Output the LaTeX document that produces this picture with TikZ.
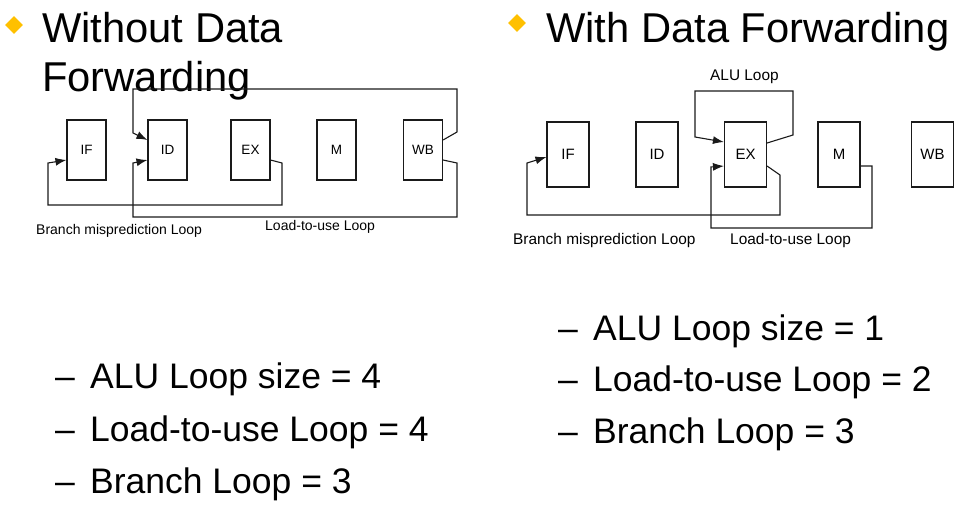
\documentclass[tikz,border=0pt]{standalone}
\usepackage{fontspec}
\setmainfont{Liberation Sans}
\usetikzlibrary{arrows.meta,shapes.geometric}
\definecolor{gold}{HTML}{FFC000}
\definecolor{ln}{HTML}{1A1A1A}
\begin{document}
\begin{tikzpicture}[x=1pt,y=-1pt,
  stagebox/.style={draw=ln,line width=1.1pt,fill=white,inner sep=0pt},
  lstage/.style={stagebox,minimum width=39pt,minimum height=60pt,font=\fontsize{13.5}{16}\selectfont},
  rstage/.style={stagebox,minimum width=42pt,minimum height=65pt,font=\fontsize{15}{18}\selectfont},
  loopline/.style={draw=ln,line width=1.1pt},
  looparrow/.style={loopline,-{Latex[length=11pt,width=8pt]}},
  bigtext/.style={anchor=base west,inner sep=0pt,font=\fontsize{41.7}{49}\selectfont},
  itemtext/.style={anchor=base west,inner sep=0pt,font=\fontsize{35.5}{42}\selectfont},
  lsmall/.style={inner sep=0pt,font=\fontsize{14}{16}\selectfont},
  rsmall/.style={inner sep=0pt,font=\fontsize{15.4}{18}\selectfont},
  bulletmark/.style={diamond,fill=gold,inner sep=0pt,minimum size=18pt}]
\useasboundingbox (0,0) rectangle (970,507);

% headings
\node[bulletmark] (b1) at (14,25) {};
\node[bigtext] (h1a) at (42,42) {Without Data};
\node[bigtext] (h1b) at (42,91) {Forwarding};
\node[bulletmark] (b2) at (517,23) {};
\node[bigtext] (h2) at (546,42) {With Data Forwarding};

% left pipeline
\node[lstage] (LIF) at (86.5,150) {IF};
\node[lstage] (LID) at (167.5,150) {ID};
\node[lstage] (LEX) at (250.5,150) {EX};
\node[lstage] (LM)  at (336.5,150) {M};
\node[lstage] (LWB) at (423,150) {WB};

\draw[looparrow] ([yshift=10pt]LWB.east) -- (457,132) -- (457,89) -- (133,89) -- (133,133) -- ([yshift=10pt]LID.west);
\draw[looparrow] ([yshift=-10pt]LWB.east) -- (457,163) -- (457,217) -- (133,217) -- (133,163) -- ([yshift=-10pt]LID.west);
\draw[looparrow] ([yshift=-10pt]LEX.east) -- (282,163) -- (282,205) -- (48,205) -- (48,163) -- ([yshift=-10pt]LIF.west);

\node[lsmall,anchor=west] (lbr) at (36,231) {Branch misprediction Loop};
\node[lsmall,anchor=west] (lld) at (265,227) {Load-to-use Loop};

% right pipeline
\node[rstage] (RIF) at (568,154.5) {IF};
\node[rstage] (RID) at (657,154.5) {ID};
\node[rstage] (REX) at (745.5,154.5) {EX};
\node[rstage] (RM)  at (839,154.5) {M};
\node[rstage] (RWB) at (932.5,154.5) {WB};

\draw[looparrow] ([yshift=11.5pt]REX.east) -- (793,135) -- (793,91) -- (695,91) -- (695,137) -- ([yshift=12.5pt]REX.west);
\draw[looparrow] ([yshift=-11.5pt]RM.east) -- (872,166) -- (872,228) -- (711,228) -- (711,167) -- ([yshift=-11.5pt]REX.west);
\draw[looparrow] ([yshift=-11.5pt]REX.east) -- (780,175) -- (780,215) -- (527,215) -- (527,163) -- ([yshift=-2.5pt]RIF.west);

\node[rsmall,anchor=west] (ralu) at (710,77) {ALU Loop};
\node[rsmall,anchor=west] (rbr) at (513,241) {Branch misprediction Loop};
\node[rsmall,anchor=west] (rld) at (730,241) {Load-to-use Loop};

% left list
\node[itemtext] (ld1) at (55,388) {–};
\node[itemtext] (lt1) at (90,388) {ALU Loop size = 4};
\node[itemtext] (ld2) at (55,441) {–};
\node[itemtext] (lt2) at (90,441) {Load-to-use Loop = 4};
\node[itemtext] (ld3) at (55,493) {–};
\node[itemtext] (lt3) at (90,493) {Branch Loop = 3};

% right list
\node[itemtext] (rd1) at (558,340) {–};
\node[itemtext] (rt1) at (593,340) {ALU Loop size = 1};
\node[itemtext] (rd2) at (558,391) {–};
\node[itemtext] (rt2) at (593,391) {Load-to-use Loop = 2};
\node[itemtext] (rd3) at (558,443) {–};
\node[itemtext] (rt3) at (593,443) {Branch Loop = 3};
\end{tikzpicture}
\end{document}
